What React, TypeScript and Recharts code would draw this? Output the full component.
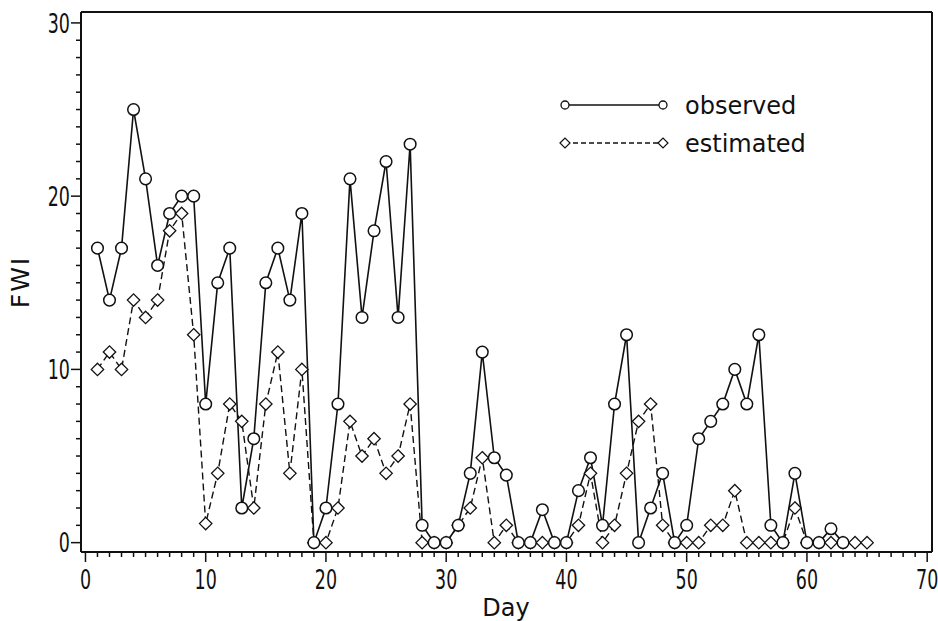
import { LineChart, Line, XAxis, YAxis, ReferenceLine } from 'recharts';

/* ------------------------------------------------------------------ */
/*  Data                                         */
/* ------------------------------------------------------------------ */

const days = [
  1, 2, 3, 4, 5, 6, 7, 8, 9, 10, 11, 12, 13, 14, 15, 16, 17, 18, 19, 20,
  21, 22, 23, 24, 25, 26, 27, 28, 29, 30, 31, 32, 33, 34, 35, 36, 37, 38, 39, 40,
  41, 42, 43, 44, 45, 46, 47, 48, 49, 50, 51, 52, 53, 54, 55, 56, 57, 58, 59, 60,
  61, 62, 63, 64, 65,
];

const observed = [
  17, 14, 17, 25, 21, 16, 19, 20, 20, 8, 15, 17, 2, 6, 15, 17, 14, 19, 0, 2,
  8, 21, 13, 18, 22, 13, 23, 1, 0, 0, 1, 4, 11, 4.9, 3.9, 0, 0, 1.9, 0, 0,
  3, 4.9, 1, 8, 12, 0, 2, 4, 0, 1, 6, 7, 8, 10, 8, 12, 1, 0, 4, 0,
  0, 0.8, 0,
];

const estimated = [
  10, 11, 10, 14, 13, 14, 18, 19, 12, 1.1, 4, 8, 7, 2, 8, 11, 4, 10, 0, 0,
  2, 7, 5, 6, 4, 5, 8, 0, 0, 0, 1, 2, 4.9, 0, 1, 0, 0, 0, 0, 0,
  1, 4, 0, 1, 4, 7, 8, 1, 0, 0, 0, 1, 1, 3, 0, 0, 0, 0, 2, 0,
  0, 0, 0, 0, 0,
];

const xTicks = Array.from({ length: 71 }, (_, i) => i);
const yTicks = Array.from({ length: 31 }, (_, i) => i);

const X_DOMAIN: [number, number] = [-0.37, 70.4];
const Y_DOMAIN: [number, number] = [-0.54, 30.63];

const chartData = days.map((d, i) => ({
  day: d,
  observed: i < observed.length ? observed[i] : null,
  estimated: estimated[i],
}));

/* ------------------------------------------------------------------ */
/*  Style                                                              */
/* ------------------------------------------------------------------ */

const INK = '#111';
const FONT = "'DejaVu Sans', sans-serif";
const NUM_FONT = "'DejaVu Sans Condensed', 'DejaVu Sans', sans-serif";
const DASH = '7 4';

/* ------------------------------------------------------------------ */
/*  Marks                                                              */
/* ------------------------------------------------------------------ */

function CircleDot(props: any) {
  const { cx, cy, index, value } = props;
  if (cx == null || cy == null || value == null) return null;
  return (
    <circle key={`o-${index}`} cx={cx} cy={cy} r={5.8} fill="#fff" stroke={INK} strokeWidth={1.5} />
  );
}

function DiamondDot(props: any) {
  const { cx, cy, index, value } = props;
  if (cx == null || cy == null || value == null) return null;
  const s = 6.2;
  return (
    <path
      key={`e-${index}`}
      d={`M${cx},${cy - s}L${cx + s},${cy}L${cx},${cy + s}L${cx - s},${cy}Z`}
      fill="#fff"
      stroke={INK}
      strokeWidth={1.3}
    />
  );
}

// narrow, tall digits like the original typesetting
function NumLabel({ x, y, anchor, children }: any) {
  return (
    <text
      transform={`translate(${x},${y}) scale(0.72,1)`}
      textAnchor={anchor}
      fontSize={27}
      fontFamily={NUM_FONT}
      fill={INK}
    >
      {children}
    </text>
  );
}

function XTick(props: any) {
  const { x, y, payload } = props;
  const major = payload.value % 10 === 0;
  return (
    <g>
      <line x1={x} x2={x} y1={y} y2={y + (major ? 10 : 5)} stroke={INK} strokeWidth={1.5} />
      {major && (
        <NumLabel x={x} y={y + 37} anchor="middle">
          {payload.value}
        </NumLabel>
      )}
    </g>
  );
}

function YTick(props: any) {
  const { x, y, payload } = props;
  const major = payload.value % 10 === 0;
  return (
    <g>
      <line x1={x} x2={x - (major ? 10 : 5)} y1={y} y2={y} stroke={INK} strokeWidth={1.5} />
      {major && (
        <NumLabel x={x - 11} y={y + 9.8} anchor="end">
          {payload.value}
        </NumLabel>
      )}
    </g>
  );
}

/* ------------------------------------------------------------------ */
/*  Legend (drawn in the plot, top right)                              */
/* ------------------------------------------------------------------ */

function FigureLegend() {
  return (
    <svg width={260} height={80} style={{ position: 'absolute', left: 550, top: 84 }}>
      <line x1={15} x2={113} y1={21} y2={21} stroke={INK} strokeWidth={1.5} />
      <circle cx={15} cy={21} r={4} fill="#fff" stroke={INK} strokeWidth={1.3} />
      <circle cx={113} cy={21} r={4} fill="#fff" stroke={INK} strokeWidth={1.3} />
      <text x={135} y={21} dy="0.36em" fontSize={24} fontFamily={FONT} fill={INK}>
        observed
      </text>
      <line x1={15} x2={113} y1={59} y2={59} stroke={INK} strokeWidth={1.3} strokeDasharray="5 3" />
      <path d="M10,59L15,54L20,59L15,64Z" fill="#fff" stroke={INK} strokeWidth={1.2} />
      <path d="M108,59L113,54L118,59L113,64Z" fill="#fff" stroke={INK} strokeWidth={1.2} />
      <text x={135} y={59} dy="0.36em" fontSize={24} fontFamily={FONT} fill={INK}>
        estimated
      </text>
    </svg>
  );
}

/* ------------------------------------------------------------------ */
/*  Component                                                          */
/* ------------------------------------------------------------------ */

export default function App() {
  return (
    <div style={{ position: 'absolute', left: 0, top: 0, width: 938, height: 621, background: '#fff' }}>
      <LineChart
        width={938}
        height={621}
        data={chartData}
        margin={{ top: 12, right: 6, bottom: 0, left: 0 }}
      >
        <XAxis
          dataKey="day"
          type="number"
          domain={X_DOMAIN}
          allowDataOverflow
          ticks={xTicks}
          interval={0}
          tickSize={0}
          tickMargin={0}
          tick={XTick}
          axisLine={{ stroke: INK, strokeWidth: 2 }}
          height={69}
          label={{
            content: () => (
              <text x={506} y={616} textAnchor="middle" fontSize={24} fontFamily={FONT} fill={INK}>
                Day
              </text>
            ),
          }}
        />
        <YAxis
          type="number"
          domain={Y_DOMAIN}
          allowDataOverflow
          ticks={yTicks}
          interval={0}
          tickSize={0}
          tickMargin={0}
          tick={YTick}
          width={81}
          axisLine={{ stroke: INK, strokeWidth: 2 }}
          label={{
            content: () => (
              <text
                x={0}
                y={0}
                transform="translate(29,282) rotate(-90)"
                textAnchor="middle"
                fontSize={25}
                letterSpacing={2}
                fontFamily={FONT}
                fill={INK}
              >
                FWI
              </text>
            ),
          }}
        />

        {/* closing frame, top and right */}
        <ReferenceLine y={Y_DOMAIN[1]} stroke={INK} strokeWidth={2} ifOverflow="extendDomain" />
        <ReferenceLine x={X_DOMAIN[1]} stroke={INK} strokeWidth={2} ifOverflow="extendDomain" />

        {/* dashed series underneath */}
        <Line
          dataKey="estimated"
          stroke={INK}
          strokeWidth={1.4}
          strokeDasharray={DASH}
          dot={DiamondDot}
          activeDot={false}
          isAnimationActive={false}
        />

        {/* observed on top */}
        <Line
          dataKey="observed"
          stroke={INK}
          strokeWidth={1.6}
          dot={CircleDot}
          activeDot={false}
          isAnimationActive={false}
        />
      </LineChart>
      <FigureLegend />
    </div>
  );
}
